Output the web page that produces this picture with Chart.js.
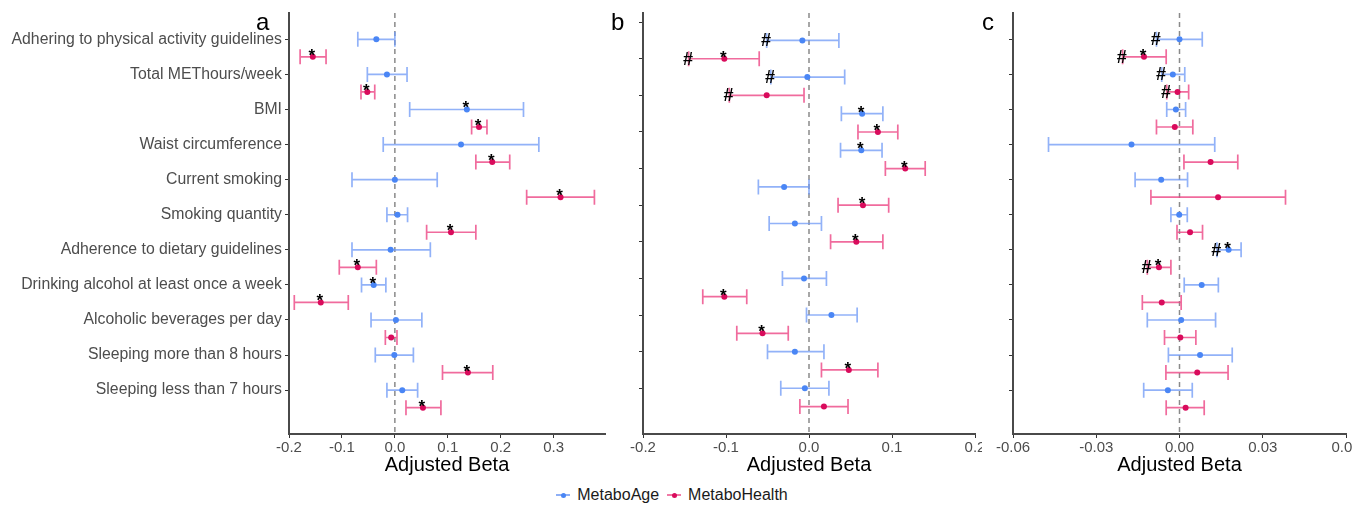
<!DOCTYPE html>
<html>
<head>
<meta charset="utf-8">
<script src="https://cdn.jsdelivr.net/npm/chart.js@4.4.1/dist/chart.umd.min.js"></script>
<style>
  body { margin: 0; width: 1364px; height: 506px; overflow: hidden; background: #fff; position: relative;
         font-family: "Liberation Sans", Arial, sans-serif; }
  .panel { position: absolute; top: 0; height: 480px; overflow: hidden; }
  .letter { position: absolute; top: 10px; font-size: 24px; line-height: 24px; color: #000; }
  #legend { position: absolute; left: -10px; width: 1364px; top: 485px; display: flex; justify-content: center;
            font-size: 16px; color: #1a1a1a; }
  #legend .item { display: flex; align-items: center; margin: 0 4px; }
  #legend .mark { position: relative; width: 14px; height: 20px; margin-right: 7px; }
  #legend .mark::before { content: ""; position: absolute; left: 0; right: 0; top: 9px; height: 1.5px; background: var(--line); }
  #legend .mark::after { content: ""; position: absolute; left: 4.5px; top: 7.5px; width: 5px; height: 5px; border-radius: 50%; background: var(--dot); }
</style>
</head>
<body>
<div class="panel" id="pa" style="left:0;width:620px"><canvas id="ca" width="620" height="480"></canvas></div>
<div class="panel" id="pb" style="left:625px;width:357px"><canvas id="cb" width="400" height="480"></canvas></div>
<div class="panel" id="pc" style="left:982px;width:370px"><canvas id="cc" width="400" height="480"></canvas></div>
<div class="letter" style="left:256px">a</div>
<div class="letter" style="left:611px">b</div>
<div class="letter" style="left:982px">c</div>
<div id="legend">
  <div class="item"><span class="mark" style="--line:#8fb0f6;--dot:#4a86f5"></span>MetaboAge</div>
  <div class="item"><span class="mark" style="--line:#f07aa6;--dot:#d90b5c"></span>MetaboHealth</div>
</div>
<script>
// ---- data ----
const categories = [
  'Adhering to physical activity guidelines', 'Total METhours/week', 'BMI', 'Waist circumference',
  'Current smoking', 'Smoking quantity', 'Adherence to dietary guidelines',
  'Drinking alcohol at least once a week', 'Alcoholic beverages per day',
  'Sleeping more than 8 hours', 'Sleeping less than 7 hours'
];
const rowsAC = [0, 1, 2, 3, 4, 5, 6, 7, 8, 9, 10];

// panel a
const aAgeBeta = [-0.035, -0.015, 0.136, 0.125, 0.000, 0.005, -0.008, -0.040, 0.002, -0.001, 0.014];
const aAgeLo   = [-0.070, -0.052, 0.028, -0.022, -0.081, -0.015, -0.081, -0.063, -0.045, -0.037, -0.015];
const aAgeHi   = [0.000, 0.023, 0.243, 0.272, 0.080, 0.024, 0.067, -0.017, 0.051, 0.035, 0.043];
const aAgeSig  = ['', '', '*', '', '', '', '', '*', '', '', ''];
const aHealthBeta = [-0.155, -0.052, 0.159, 0.184, 0.313, 0.106, -0.070, -0.140, -0.007, 0.138, 0.053];
const aHealthLo   = [-0.179, -0.064, 0.145, 0.153, 0.249, 0.060, -0.105, -0.190, -0.018, 0.090, 0.021];
const aHealthHi   = [-0.130, -0.038, 0.174, 0.217, 0.377, 0.153, -0.035, -0.088, 0.004, 0.185, 0.087];
const aHealthSig  = ['*', '*', '*', '*', '*', '*', '*', '*', '', '*', '*'];
const aTicks = [-0.2, -0.1, 0, 0.1, 0.2, 0.3];
const aTickLabels = ['-0.2', '-0.1', '0.0', '0.1', '0.2', '0.3'];

// panel b (ten estimates, placed between the category ticks)
const bRows = [0.5, 1.5, 2.5, 3.5, 4.5, 5.5, 7, 8, 9, 10];
const bAgeBeta = [-0.008, -0.002, 0.064, 0.063, -0.030, -0.017, -0.006, 0.027, -0.017, -0.005];
const bAgeLo   = [-0.051, -0.046, 0.039, 0.038, -0.061, -0.048, -0.032, -0.003, -0.050, -0.034];
const bAgeHi   = [0.036, 0.043, 0.089, 0.088, 0.000, 0.015, 0.021, 0.058, 0.018, 0.024];
const bAgeSig  = ['#', '#', '*', '*', '', '', '', '', '', ''];
const bHealthBeta = [-0.102, -0.051, 0.083, 0.116, 0.065, 0.057, -0.102, -0.056, 0.048, 0.018];
const bHealthLo   = [-0.145, -0.096, 0.059, 0.092, 0.035, 0.026, -0.128, -0.087, 0.015, -0.011];
const bHealthHi   = [-0.060, -0.006, 0.107, 0.140, 0.096, 0.089, -0.075, -0.025, 0.083, 0.047];
const bHealthSig  = ['#*', '#', '*', '*', '*', '*', '*', '*', '*', ''];
const bTicks = [-0.2, -0.1, 0, 0.1, 0.2];
const bTickLabels = ['-0.2', '-0.1', '0.0', '0.1', '0.2'];

// panel c
const cAgeBeta = [0.0000, -0.0024, -0.0013, -0.0173, -0.0066, -0.0001, 0.0177, 0.0080, 0.0006, 0.0074, -0.0042];
const cAgeLo   = [-0.0083, -0.0064, -0.0046, -0.0472, -0.0160, -0.0031, 0.0135, 0.0017, -0.0116, -0.0040, -0.0129];
const cAgeHi   = [0.0082, 0.0019, 0.0022, 0.0127, 0.0029, 0.0028, 0.0222, 0.0140, 0.0130, 0.0190, 0.0046];
const cAgeSig  = ['#', '#', '', '', '', '', '#*', '', '', '', ''];
const cHealthBeta = [-0.0128, -0.0007, -0.0017, 0.0112, 0.0139, 0.0038, -0.0074, -0.0064, 0.0003, 0.0064, 0.0022];
const cHealthLo   = [-0.0205, -0.0046, -0.0083, 0.0016, -0.0103, -0.0009, -0.0116, -0.0134, -0.0054, -0.0049, -0.0048];
const cHealthHi   = [-0.0048, 0.0033, 0.0048, 0.0210, 0.0382, 0.0083, -0.0031, 0.0006, 0.0059, 0.0175, 0.0089];
const cHealthSig  = ['#*', '#', '', '', '', '', '#*', '', '', '', ''];
const cTicks = [-0.06, -0.03, 0, 0.03, 0.06];
const cTickLabels = ['-0.06', '-0.03', '0.00', '0.03', '0.06'];

// ---- styling ----
const AGE_DOT = '#4a86f5', AGE_BAR = 'rgba(110,152,245,0.75)';
const HEALTH_DOT = '#d90b5c', HEALTH_BAR = 'rgba(236,70,132,0.8)';
const GREY_TXT = '#4d4d4d';
const FONT = '"Liberation Sans", Arial, sans-serif';

// dashed zero line + error bars under the points, significance marks on top
const errorBars = {
  id: 'errorBars',
  beforeDatasetsDraw(chart) {
    const { ctx, chartArea, scales: { x, y } } = chart;
    ctx.save();
    const x0 = x.getPixelForValue(0);
    ctx.strokeStyle = '#8a8a8a';
    ctx.lineWidth = 1.5;
    ctx.setLineDash([5, 4]);
    ctx.beginPath();
    ctx.moveTo(x0, chartArea.top);
    ctx.lineTo(x0, chartArea.bottom);
    ctx.stroke();
    ctx.setLineDash([]);
    chart.data.datasets.forEach(ds => {
      ctx.strokeStyle = ds.barColor;
      ctx.lineWidth = 1.7;
      ds.data.forEach((p, i) => {
        const yy = y.getPixelForValue(p.y);
        const x1 = x.getPixelForValue(ds.lo[i]);
        const x2 = x.getPixelForValue(ds.hi[i]);
        ctx.beginPath();
        ctx.moveTo(x1, yy); ctx.lineTo(x2, yy);
        ctx.moveTo(x1, yy - 7.5); ctx.lineTo(x1, yy + 7.5);
        ctx.moveTo(x2, yy - 7.5); ctx.lineTo(x2, yy + 7.5);
        ctx.stroke();
      });
    });
    ctx.restore();
  },
  afterDatasetsDraw(chart) {
    const { ctx, scales: { x, y } } = chart;
    ctx.save();
    ctx.fillStyle = '#000';
    ctx.textAlign = 'center';
    chart.data.datasets.forEach(ds => {
      ds.data.forEach((p, i) => {
        const s = ds.sig[i];
        if (!s) return;
        const yy = y.getPixelForValue(p.y);
        if (s.includes('*')) {
          ctx.font = 'bold 17px ' + FONT;
          ctx.textBaseline = 'alphabetic';
          ctx.fillText('*', x.getPixelForValue(p.x) - 1, yy + 4);
        }
        if (s.includes('#')) {
          ctx.font = 'italic bold 18px ' + FONT;
          ctx.textBaseline = 'middle';
          ctx.fillText('#', x.getPixelForValue(ds.lo[i]) - 1, yy + 1);
        }
      });
    });
    ctx.restore();
  }
};

function makePanel(id, cfg) {
  const series = [
    { label: 'MetaboAge', beta: cfg.ageBeta, lo: cfg.ageLo, hi: cfg.ageHi, sig: cfg.ageSig, off: 0, dot: AGE_DOT, bar: AGE_BAR },
    { label: 'MetaboHealth', beta: cfg.healthBeta, lo: cfg.healthLo, hi: cfg.healthHi, sig: cfg.healthSig, off: 0.5, dot: HEALTH_DOT, bar: HEALTH_BAR }
  ];
  new Chart(document.getElementById(id), {
    type: 'scatter',
    data: {
      datasets: series.map(s => ({
        label: s.label,
        data: s.beta.map((b, i) => ({ x: b, y: cfg.rows[i] + s.off })),
        lo: s.lo, hi: s.hi, sig: s.sig, barColor: s.bar,
        backgroundColor: s.dot, borderColor: s.dot,
        pointRadius: 3, pointBorderWidth: 0, pointHoverRadius: 3
      }))
    },
    options: {
      responsive: false,
      animation: false,
      layout: { padding: { left: 0, top: 13, right: cfg.padRight, bottom: 0 } },
      plugins: { legend: { display: false }, tooltip: { enabled: false } },
      scales: {
        x: {
          type: 'linear', min: cfg.ticks[0], max: cfg.xMax,
          afterBuildTicks: sc => { sc.ticks = cfg.ticks.map(v => ({ value: v })); },
          afterFit: sc => { sc.height = 46; },
          grid: { drawOnChartArea: false, drawTicks: true, tickLength: 4, color: '#333', lineWidth: 1 },
          border: { display: true, color: '#4a4a4a', width: 2 },
          ticks: {
            color: GREY_TXT, font: { family: FONT, size: 15 }, padding: 1, maxRotation: 0, autoSkip: false,
            callback: (v, i) => cfg.tickLabels[i]
          },
          title: { display: true, text: 'Adjusted Beta', color: '#000', font: { family: FONT, size: 20 }, padding: { top: 0, bottom: 3 } }
        },
        y: {
          type: 'linear', reverse: true, min: cfg.yMin, max: 11.25,
          afterBuildTicks: sc => { sc.ticks = rowsAC.map(v => ({ value: v })); },
          afterFit: sc => { sc.width = cfg.yWidth; },
          grid: { drawOnChartArea: false, drawTicks: true, tickLength: 4, color: '#333', lineWidth: 1 },
          border: { display: true, color: '#4a4a4a', width: 2 },
          ticks: {
            color: GREY_TXT, font: { family: FONT, size: 15.8 }, padding: 3, autoSkip: false,
            callback: (v, i) => cfg.showLabels ? categories[i] : ''
          }
        }
      }
    },
    plugins: [errorBars]
  });
}

makePanel('ca', {
  rows: rowsAC, ageBeta: aAgeBeta, ageLo: aAgeLo, ageHi: aAgeHi, ageSig: aAgeSig,
  healthBeta: aHealthBeta, healthLo: aHealthLo, healthHi: aHealthHi, healthSig: aHealthSig,
  ticks: aTicks, tickLabels: aTickLabels, xMax: 0.397, yMin: -0.75,
  yWidth: 289, padRight: 15, showLabels: true
});
makePanel('cb', {
  rows: bRows, ageBeta: bAgeBeta, ageLo: bAgeLo, ageHi: bAgeHi, ageSig: bAgeSig,
  healthBeta: bHealthBeta, healthLo: bHealthLo, healthHi: bHealthHi, healthSig: bHealthSig,
  ticks: bTicks, tickLabels: bTickLabels, xMax: 0.2, yMin: -0.25,
  yWidth: 18, padRight: 50, showLabels: false
});
makePanel('cc', {
  rows: rowsAC, ageBeta: cAgeBeta, ageLo: cAgeLo, ageHi: cAgeHi, ageSig: cAgeSig,
  healthBeta: cHealthBeta, healthLo: cHealthLo, healthHi: cHealthHi, healthSig: cHealthSig,
  ticks: cTicks, tickLabels: cTickLabels, xMax: 0.06, yMin: -0.75,
  yWidth: 31, padRight: 36, showLabels: false
});
</script>
</body>
</html>
